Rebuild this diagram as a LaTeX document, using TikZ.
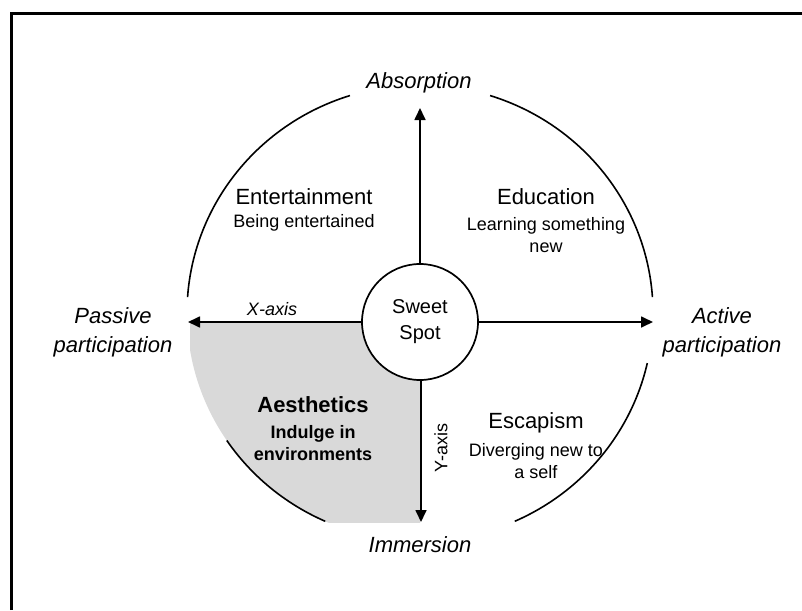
\documentclass[tikz,border=0pt]{standalone}
\usepackage{fontspec}
\setmainfont{Liberation Sans}
\usetikzlibrary{arrows.meta}
\definecolor{quadgray}{RGB}{217,217,217}
\begin{document}
\begin{tikzpicture}[x=0.5pt,y=-0.5pt,
  frameline/.style={line width=1.35pt},
  rim/.style={line width=0.8pt},
  axisarrow/.style={line width=0.85pt,-{Triangle[length=6pt,width=5.5pt]}},
  pole/.style={font=\fontsize{11}{14.5}\selectfont\itshape,align=center,inner sep=0pt},
  quadtitle/.style={font=\fontsize{11}{13}\selectfont,inner sep=0pt},
  quadsub/.style={font=\fontsize{9}{11}\selectfont,align=center,inner sep=0pt},
  axislabel/.style={font=\fontsize{9}{11}\selectfont,inner sep=0pt},
  hub/.style={circle,draw,line width=0.85pt,fill=white,minimum size=58pt,inner sep=0pt,
    font=\fontsize{10}{13}\selectfont,align=center}]
\useasboundingbox (0,0) rectangle (802,610);
\fill[white] (0,0) rectangle (802,610);

% open frame along the top and left edges
\draw[frameline] (11.3,610) -- (11.3,13.3) -- (802,13.3);

% centre of the outer ring
\coordinate (C) at (420,313);

% shaded lower-left quadrant
\begin{scope}
  \clip (190,322) rectangle (420,522);
  \fill[quadgray] (C) ellipse[x radius=233,y radius=228];
\end{scope}

% outer ring, broken at the four pole labels
\draw[rim] (C) ++(-107.5:233 and 228) arc[start angle=-107.5,end angle=-176,x radius=233,y radius=228];
\draw[rim] (C) ++(-72.5:233 and 228) arc[start angle=-72.5,end angle=-4,x radius=233,y radius=228];
\draw[rim] (C) ++(12.7:233 and 228) arc[start angle=12.7,end angle=66,x radius=233,y radius=228];
\draw[rim] (C) ++(146:233 and 228) arc[start angle=146,end angle=114,x radius=233,y radius=228];

% central hub
\node[hub] (ss) at (420,322) {Sweet\\Spot};

% axis end points
\coordinate (tipN) at (420,108);
\coordinate (tipE) at (653,322);
\coordinate (tipW) at (188,322);
\coordinate (tipS) at (421,522);

\draw[axisarrow] (ss) -- (tipN);
\draw[axisarrow] (ss) -- (tipE);
\draw[axisarrow] (ss) -- (tipW);
\draw[axisarrow] (ss.south -| tipS) -- (tipS);

% pole labels
\node[pole] (absorption) at (419,83) {Absorption};
\node[pole] (immersion) at (420,545) {Immersion};
\node[pole] (passive) at (113,332) {Passive\\participation};
\node[pole] (active) at (722,332) {Active\\participation};

% axis names
\node[axislabel,font=\fontsize{9}{11}\selectfont\itshape] (xaxis) at (272,309) {X-axis};
\node[axislabel,rotate=90] (yaxis) at (441,448) {Y-axis};

% quadrant texts
\node[quadtitle] (ent) at (304,197) {Entertainment};
\node[quadsub] (entsub) at (304,223) {Being entertained};

\node[quadtitle] (edu) at (546,197) {Education};
\node[quadsub] (edusub) at (546,235) {Learning something\\new};

\node[quadtitle] (esc) at (536,423) {Escapism};
\node[quadsub] (escsub) at (536,461) {Diverging new to\\a self};

\node[quadtitle,font=\fontsize{11}{13}\selectfont\bfseries] (aes) at (313,405) {Aesthetics};
\node[quadsub,font=\fontsize{9}{11}\selectfont\bfseries] (aessub) at (313,443) {Indulge in\\environments};
\end{tikzpicture}
\end{document}
